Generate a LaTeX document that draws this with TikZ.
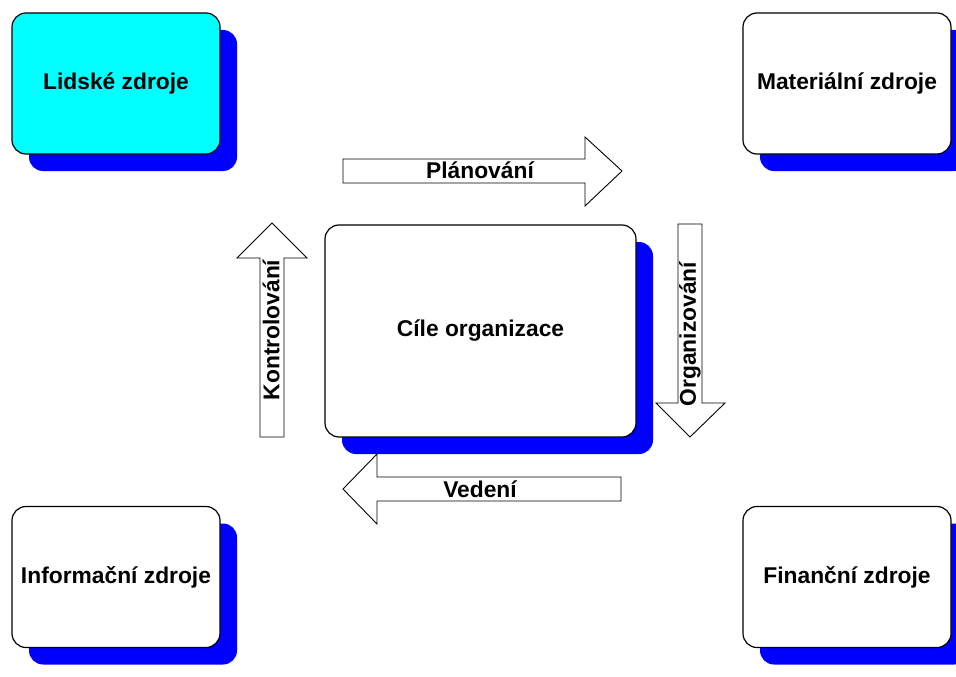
\documentclass[tikz,border=0pt]{standalone}
\usepackage{fontspec}
\setmainfont{Liberation Sans}
\usetikzlibrary{shadows}
\definecolor{shadowblue}{RGB}{0,0,255}
\definecolor{boxcyan}{RGB}{0,255,255}
\begin{document}
\begin{tikzpicture}[x=1pt,y=-1pt,
  resbox/.style={draw=black, line width=1.2pt, rounded corners=14pt, fill=white,
    minimum width=208pt, minimum height=141pt, inner sep=0pt,
    font=\fontsize{22.8}{26}\selectfont\bfseries,
    drop shadow={shadow xshift=17pt, shadow yshift=-17pt, fill=shadowblue, opacity=1}},
  bigarrow/.style={draw=black, line width=0.9pt, fill=white},
  arrlabel/.style={inner sep=0pt, font=\fontsize{22.8}{26}\selectfont\bfseries}
]
\useasboundingbox (0,0) rectangle (956,677);
\begin{scope}
\clip (0,0) rectangle (956,677);
\node[resbox, fill=boxcyan] (lidske) at (116,83.5) {Lidské zdroje};
\node[resbox] (material) at (847,83.5) {Materiální zdroje};
\node[resbox] (info) at (116,577) {Informační zdroje};
\node[resbox] (financ) at (847,577) {Finanční zdroje};
\node[resbox, minimum width=311pt, minimum height=212pt] (cile) at (480.5,331) {Cíle organizace};
\end{scope}
% Planovani (right)
\draw[bigarrow] (343,159) -- (585,159) -- (585,137) -- (622,171) -- (585,206) -- (585,183) -- (343,183) -- cycle;
\node[arrlabel] (plan) at (480,170) {Plánování};
% Organizovani (down)
\draw[bigarrow] (678,224) -- (702,224) -- (702,403) -- (725,403) -- (690,437) -- (656,403) -- (678,403) -- cycle;
\node[arrlabel, rotate=90] (org) at (690,334) {Organizování};
% Vedeni (left)
\draw[bigarrow] (621,477) -- (377,477) -- (377,454) -- (343,489) -- (377,524) -- (377,501) -- (621,501) -- cycle;
\node[arrlabel] (ved) at (480,489) {Vedení};
% Kontrolovani (up)
\draw[bigarrow] (260,437) -- (260,258) -- (237,258) -- (272,223) -- (307,258) -- (284,258) -- (284,437) -- cycle;
\node[arrlabel, rotate=90] (kon) at (271,330) {Kontrolování};
\end{tikzpicture}
\end{document}
